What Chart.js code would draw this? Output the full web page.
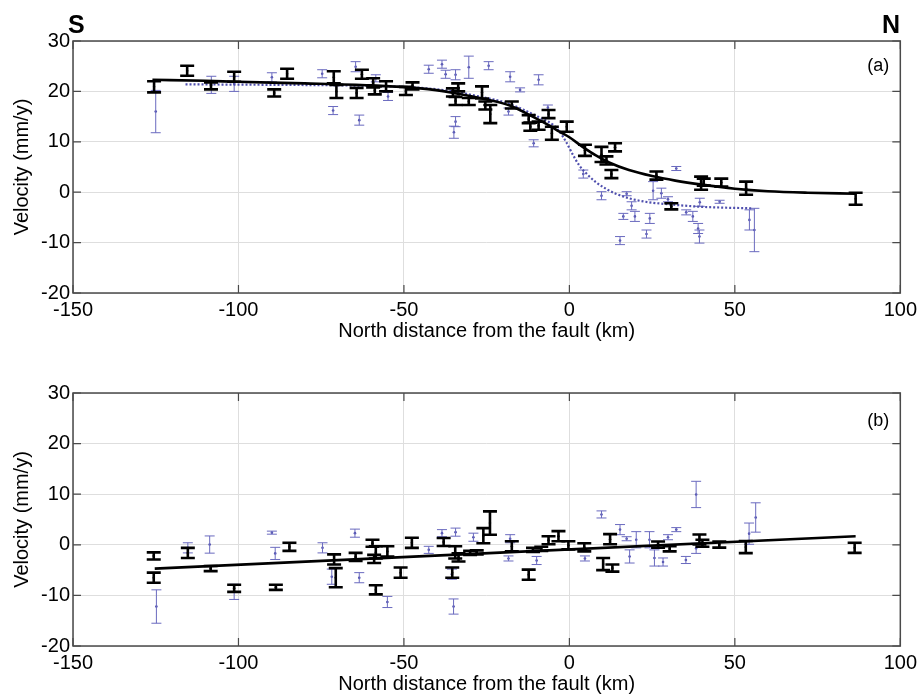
<!DOCTYPE html>
<html><head><meta charset="utf-8">
<script src="https://cdn.jsdelivr.net/npm/chart.js@4.4.0/dist/chart.umd.min.js"></script>
<style>
html,body{margin:0;padding:0;background:#fff;}
#wrap{position:relative;width:922px;height:700px;overflow:hidden;background:#fff;}
.pane{position:absolute;left:0;width:922px;height:350px;}
</style></head><body>
<div id="wrap">
<div class="pane" style="top:0"><canvas id="ca" width="922" height="350"></canvas></div>
<div class="pane" style="top:350px"><canvas id="cb" width="922" height="350"></canvas></div>
</div>
<script>
// ---------- tick labels ----------
const xTicks = [-150, -100, -50, 0, 50, 100];
const yTicks = [-20, -10, 0, 10, 20, 30];

// ---------- panel (a) ----------
const aBlackX = [-125.5,-115.5,-108.3,-101.3,-89.2,-85.3,-71.2,-70.4,-64.3,-62.7,-59.3,-58.8,-55.4,-49.4,-47.4,-35.2,-33.6,-34.4,-30.4,-26.4,-25.4,-23.9,-17.4,-12.3,-11.8,-9.3,-6.3,-5.3,-0.8,4.7,9.7,11.2,12.7,13.8,26.3,30.8,39.8,40.6,45.9,53.4,86.5];
const aBlackV = [20.9,24.1,21.1,22.9,19.7,23.5,22.8,20.0,19.7,23.4,21.7,20.2,21.0,20.1,21.1,19.8,20.8,18.1,18.0,19.8,17.2,15.5,17.3,14.5,13.0,13.2,15.5,11.7,13.0,8.3,7.5,6.3,3.6,8.9,3.3,-2.8,1.8,2.0,1.9,0.8,-1.3];
const aBlackE = [1.1,1.0,0.7,1.0,0.7,1.0,1.2,1.3,1.0,0.9,0.9,0.8,1.0,0.8,0.7,0.8,0.8,0.8,0.7,1.2,0.8,1.8,0.7,0.8,0.8,0.8,0.8,1.3,1.0,1.1,1.5,0.8,0.8,0.8,0.8,0.6,1.3,0.7,0.8,1.3,1.2];

const aBlueX = [-125.0,-108.2,-101.3,-89.9,-74.7,-71.4,-64.6,-63.5,-58.5,-54.8,-42.5,-38.5,-37.4,-34.4,-34.4,-34.9,-30.4,-24.4,-17.9,-14.9,-9.3,-18.4,-10.8,-6.5,4.2,9.7,15.3,17.3,18.8,16.3,19.8,24.3,23.3,25.3,27.8,29.8,32.3,35.3,37.3,39.4,38.9,39.3,45.4,54.4,55.9];
const aBlueV = [16.0,21.3,21.5,22.8,23.5,16.2,24.9,14.3,22.6,19.0,24.4,25.4,23.4,23.3,14.0,11.9,24.8,25.1,22.9,20.3,22.3,16.0,9.7,16.8,3.6,-0.7,-9.6,-0.3,-2.7,-4.8,-4.8,-5.2,-8.3,0.3,-0.2,-1.4,4.7,-4.0,-4.8,-2.0,-7.2,-8.8,-1.9,-5.5,-7.5];
const aBlueE = [4.2,1.7,1.5,0.9,0.8,0.8,1.0,1.0,0.7,0.8,0.8,0.8,0.8,1.0,1.0,1.2,2.2,0.8,1.0,0.4,1.0,0.7,0.7,0.5,0.8,0.8,0.8,0.4,0.8,0.6,1.0,1.0,0.8,1.8,1.0,0.5,0.4,0.5,1.0,0.8,1.0,1.3,0.3,2.0,4.3];

const aModelX = [-126,-110,-100,-80,-60,-45,-35,-25,-18,-12,-6,-3,0,4,8,12,18,25,32,40,50,60,72,86.5];
const aModelV = [22.3,22.1,21.9,21.6,21.2,20.6,19.7,18.4,17.2,15.3,13.2,12.0,10.9,9.0,7.3,5.9,4.4,3.2,2.3,1.5,0.7,0.2,-0.1,-0.3];

const aSimX = [-116,-90,-70,-55,-45,-35,-28,-20,-14,-9,-5,-3,-1,1,3,5,8,11,14,18,23,30,40,55];
const aSimV = [21.4,21.3,21.2,21.0,20.7,20.0,19.1,17.9,16.4,14.8,13.4,12.0,10.0,7.5,5.3,3.8,2.0,0.7,-0.3,-1.2,-1.9,-2.4,-2.9,-3.2];

// ---------- panel (b) ----------
const bBlackX = [-125.6,-125.6,-115.3,-108.4,-101.3,-88.7,-84.6,-71.1,-70.6,-64.6,-59.5,-58.5,-59.0,-58.5,-55.0,-51.0,-47.6,-38.0,-34.5,-33.5,-35.4,-30.0,-28.0,-26.0,-24.0,-17.4,-12.3,-11.0,-8.5,-6.3,-3.3,-0.3,4.5,10.2,12.3,13.0,26.8,30.3,39.3,40.2,45.3,53.3,86.2];
const bBlackV = [-2.2,-6.5,-1.6,-4.7,-8.6,-8.4,-0.4,-2.9,-6.5,-2.4,0.3,-1.5,-2.8,-8.9,-1.3,-5.5,0.4,0.55,-1.5,-2.5,-5.5,-1.6,-1.5,1.8,4.3,-0.3,-5.9,-1.0,-0.8,0.9,1.7,-0.1,-0.5,-3.8,1.1,-4.6,0.05,-0.8,1.05,0.3,0.05,-0.45,-0.6];
const bBlackE = [0.7,1.0,1.0,0.5,0.7,0.5,0.8,1.0,1.9,0.8,0.7,1.2,0.8,0.9,1.0,1.0,1.0,0.8,1.2,0.8,1.0,0.4,0.4,1.5,2.3,1.0,1.0,0.4,0.4,0.8,1.0,0.8,0.8,1.2,1.0,0.7,0.6,0.5,1.0,0.7,0.6,1.2,1.0];

const bBlueX = [-124.8,-115.3,-108.7,-101.3,-89.9,-88.9,-74.6,-71.8,-64.8,-63.5,-55.0,-42.5,-38.5,-34.4,-35.5,-35.0,-29.0,-17.9,-18.4,-9.9,4.7,9.7,15.3,17.3,20.2,18.2,24.2,25.7,29.8,32.3,28.3,35.2,38.3,38.3,54.3,56.3];
const bBlueV = [-12.2,-0.6,0.05,-9.3,2.4,-1.7,-0.6,-6.3,2.3,-6.5,-11.3,-1.0,2.3,2.5,-5.8,-12.2,1.5,1.2,-2.7,-3.1,-2.7,6.0,3.0,1.2,1.0,-2.3,1.0,-2.6,1.5,3.0,-3.4,-3.0,9.95,-0.7,2.2,5.4];
const bBlueE = [3.3,1.0,1.7,1.5,0.3,1.2,1.0,1.5,0.8,1.0,1.1,0.7,0.7,0.8,1.0,1.5,0.8,0.8,0.5,0.8,0.5,0.7,1.0,0.4,1.6,1.3,1.6,1.6,0.5,0.4,0.8,0.7,2.6,1.0,2.1,2.9];

const bModelX = [-125.3, 86.5];
const bModelV = [-4.7, 1.7];

// ---------- helpers ----------
const FONT = "'Liberation Sans', Arial, Helvetica, sans-serif";
const BLUE_BAR = '#6a6abf';
const BLUE_LINE = '#4f4fae';
const pts = (xs, vs) => xs.map((x, i) => ({x: x, y: vs[i]}));

const errPlugin = {
  id: 'errbars',
  afterDatasetDraw(chart, args) {
    const ds = chart.data.datasets[args.index];
    if (!ds.errors) return;
    const ctx = chart.ctx, xs = chart.scales.x, ys = chart.scales.y, ca = chart.chartArea;
    ctx.save();
    ctx.beginPath();
    ctx.rect(ca.left, ca.top, ca.right - ca.left, ca.bottom - ca.top);
    ctx.clip();
    ctx.strokeStyle = ds.barColor;
    ctx.lineWidth = ds.barWidth;
    ctx.lineCap = 'butt';
    const cw = ds.capHalf;
    ds.data.forEach((p, i) => {
      const e = ds.errors[i];
      const px = xs.getPixelForValue(p.x);
      const y1 = ys.getPixelForValue(p.y + e);
      const y2 = ys.getPixelForValue(p.y - e);
      ctx.beginPath();
      ctx.moveTo(px, y1); ctx.lineTo(px, y2);
      ctx.moveTo(px - cw, y1); ctx.lineTo(px + cw, y1);
      ctx.moveTo(px - cw, y2); ctx.lineTo(px + cw, y2);
      ctx.stroke();
    });
    ctx.restore();
  }
};

const framePlugin = {
  id: 'frame',
  afterDraw(chart, args, opts) {
    const ctx = chart.ctx, ca = chart.chartArea, xs = chart.scales.x, ys = chart.scales.y;
    ctx.save();
    ctx.strokeStyle = '#4a4a4a';
    ctx.lineWidth = 1.5;
    ctx.strokeRect(ca.left, ca.top, ca.right - ca.left, ca.bottom - ca.top);
    ctx.lineWidth = 1.2;
    ctx.beginPath();
    const tl = 8;
    xs.ticks.forEach(t => {
      const px = xs.getPixelForValue(t.value);
      ctx.moveTo(px, ca.bottom); ctx.lineTo(px, ca.bottom - tl);
      ctx.moveTo(px, ca.top); ctx.lineTo(px, ca.top + tl);
    });
    ys.ticks.forEach(t => {
      const py = ys.getPixelForValue(t.value);
      ctx.moveTo(ca.left, py); ctx.lineTo(ca.left + tl, py);
      ctx.moveTo(ca.right, py); ctx.lineTo(ca.right - tl, py);
    });
    ctx.stroke();
    ctx.fillStyle = '#000';
    ctx.textBaseline = 'alphabetic';
    ctx.textAlign = 'left';
    ctx.font = '18px ' + FONT;
    ctx.fillText(opts.tag, ca.right - 33, ca.top + opts.tagDy);
    if (opts.sn) {
      ctx.font = 'bold 25px ' + FONT;
      ctx.fillText('S', 68, 33);
      ctx.fillText('N', 882, 33);
    }
    ctx.restore();
  }
};

function makeChart(id, blackX, blackV, blackE, blueX, blueV, blueE, modelX, modelV, simX, simV, tag, padTop, axisH, titlePad, tagDy, sn) {
  const datasets = [
    {type: 'line', data: pts(modelX, modelV), borderColor: '#000', borderWidth: 2.6, pointRadius: 0, fill: false, cubicInterpolationMode: 'monotone'},
    {type: 'scatter', data: pts(blackX, blackV), errors: blackE, barColor: '#000', barWidth: 2.6, capHalf: 7, pointRadius: 1.2, pointBackgroundColor: '#000', pointBorderWidth: 0}
  ];
  if (simX) {
    datasets.push({type: 'line', data: pts(simX, simV), borderColor: BLUE_LINE, borderWidth: 2.2, borderDash: [2, 2], pointRadius: 0, fill: false, cubicInterpolationMode: 'monotone'});
  }
  datasets.push({type: 'scatter', data: pts(blueX, blueV), errors: blueE, barColor: BLUE_BAR, barWidth: 1, capHalf: 5, pointRadius: 1.3, pointBackgroundColor: BLUE_LINE, pointBorderWidth: 0});

  return new Chart(document.getElementById(id), {
    data: {datasets: datasets},
    plugins: [errPlugin, framePlugin],
    options: {
      responsive: false,
      animation: false,
      events: [],
      layout: {padding: {top: padTop, right: 19, left: 0, bottom: 0}},
      plugins: {legend: {display: false}, tooltip: {enabled: false}, frame: {tag: tag, tagDy: tagDy, sn: sn}},
      scales: {
        x: {
          type: 'linear', position: 'bottom', min: -150, max: 100,
          afterBuildTicks: s => { s.ticks = xTicks.map(v => ({value: v})); },
          afterFit: s => { s.height = axisH; },
          grid: {color: '#dedede', lineWidth: 1, drawTicks: false},
          border: {display: false},
          ticks: {color: '#000', font: {size: 20, family: FONT}, padding: 5, maxRotation: 0, autoSkip: false},
          title: {display: true, text: 'North distance from the fault (km)', color: '#000', font: {size: 20, family: FONT}, padding: {top: 0, bottom: titlePad}}
        },
        y: {
          type: 'linear', position: 'left', min: -20, max: 30,
          afterBuildTicks: s => { s.ticks = yTicks.map(v => ({value: v})); },
          afterFit: s => { s.width = 73; },
          grid: {color: '#dedede', lineWidth: 1, drawTicks: false},
          border: {display: false},
          ticks: {color: '#000', font: {size: 20, family: FONT}, padding: 3, autoSkip: false},
          title: {display: true, text: 'Velocity (mm/y)', color: '#000', font: {size: 20, family: FONT}, padding: {top: 10, bottom: 0}}
        }
      }
    }
  });
}

makeChart('ca', aBlackX, aBlackV, aBlackE, aBlueX, aBlueV, aBlueE, aModelX, aModelV, aSimX, aSimV, '(a)', 41, 57, 6.5, 30, true);
makeChart('cb', bBlackX, bBlackV, bBlackE, bBlueX, bBlueV, bBlueE, bModelX, bModelV, null, null, '(b)', 43, 54, 3.5, 33, false);
</script>
</body></html>
